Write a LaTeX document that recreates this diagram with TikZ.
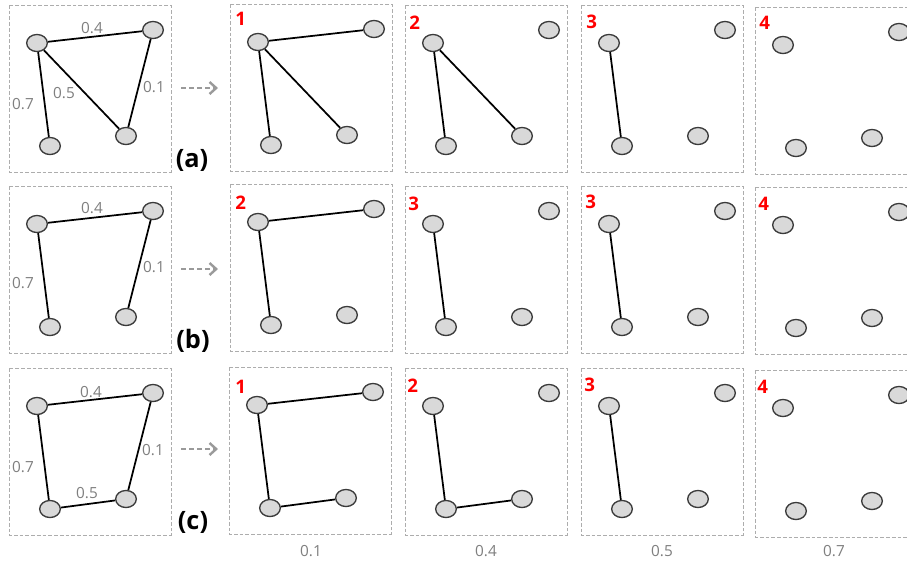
\documentclass[tikz,border=0pt]{standalone}
\usepackage{fontspec}
\setmainfont{Open Sans}
\usetikzlibrary{shapes.geometric,arrows.meta}
\definecolor{vfill}{HTML}{D9D9D9}
\definecolor{vline}{HTML}{3A3A3A}
\definecolor{pline}{HTML}{ADADAD}
\definecolor{lbl}{HTML}{7F7F7F}
\definecolor{arr}{HTML}{9A9A9A}
\definecolor{numred}{HTML}{FF0000}
\tikzset{
 vtx/.style={ellipse, draw=vline, fill=vfill, line width=1pt, minimum width=15.5pt, minimum height=12.8pt, inner sep=0pt},
 gedge/.style={line width=1.3pt, black},
 panelbox/.style={draw=pline, line width=0.75pt, dash pattern=on 2.8pt off 1.5pt},
 wlabel/.style={text=lbl, font=\fontsize{11.5}{13}\selectfont, inner sep=0pt},
 stepnum/.style={text=numred, font=\fontsize{14}{16}\selectfont\bfseries, inner sep=0pt, anchor=west},
 rowlabel/.style={font=\fontsize{19}{21}\selectfont\bfseries, inner sep=0pt},
 flowarrow/.style={draw=arr, line width=1.8pt, dash pattern=on 3.8pt off 2.2pt, -{Straight Barb[length=5pt,width=9pt]}},
}
\newcommand\graphpanel[3]{%
  \draw[panelbox] (#2,#3) rectangle ++(162,167);
  \node[vtx] (#1A) at (#2+28,#3+38) {};
  \node[vtx] (#1B) at (#2+144,#3+25) {};
  \node[vtx] (#1C) at (#2+41,#3+141) {};
  \node[vtx] (#1D) at (#2+117,#3+131) {};
}
\begin{document}
\begin{tikzpicture}[x=0.75pt,y=-0.75pt]
\fill[white] (0,0) rectangle (907,561);
\useasboundingbox (0,0) rectangle (907,561);
\clip (0,0) rectangle (907,561);
% ---------- row (a)
\graphpanel{a0}{9}{5}
\graphpanel{a1}{230}{4}
\graphpanel{a2}{405}{5}
\graphpanel{a3}{581}{5}
\graphpanel{a4}{755}{7}
\draw[gedge] (a0A) -- (a0B);
\draw[gedge] (a0A) -- (a0C);
\draw[gedge] (a0A) -- (a0D);
\draw[gedge] (a0B) -- (a0D);
\draw[gedge] (a1A) -- (a1B);
\draw[gedge] (a1A) -- (a1C);
\draw[gedge] (a1A) -- (a1D);
\draw[gedge] (a2A) -- (a2C);
\draw[gedge] (a2A) -- (a2D);
\draw[gedge] (a3A) -- (a3C);
\node[wlabel] (aw1) at (92,28) {0.4};
\node[wlabel] (aw2) at (154,87) {0.1};
\node[wlabel] (aw3) at (64,93) {0.5};
\node[wlabel] (aw4) at (23,104) {0.7};
\node[stepnum] (an1) at (235,19) {1};
\node[stepnum] (an2) at (409,22.5) {2};
\node[stepnum] (an3) at (586,22) {3};
\node[stepnum] (an4) at (759,23) {4};
\node[rowlabel] (arl) at (192,160) {(a)};
\coordinate (aas) at (181,88);
\coordinate (aae) at (218,88);
\draw[flowarrow] (aas) -- (aae);
% ---------- row (b)
\graphpanel{b0}{9}{186}
\graphpanel{b1}{230}{184}
\graphpanel{b2}{405}{186}
\graphpanel{b3}{581}{186}
\graphpanel{b4}{755}{187}
\draw[gedge] (b0A) -- (b0B);
\draw[gedge] (b0A) -- (b0C);
\draw[gedge] (b0B) -- (b0D);
\draw[gedge] (b1A) -- (b1B);
\draw[gedge] (b1A) -- (b1C);
\draw[gedge] (b2A) -- (b2C);
\draw[gedge] (b3A) -- (b3C);
\node[wlabel] (bw1) at (92,208) {0.4};
\node[wlabel] (bw2) at (154,267) {0.1};
\node[wlabel] (bw4) at (23,283) {0.7};
\node[stepnum] (bn1) at (235,203) {2};
\node[stepnum] (bn2) at (408,203.5) {3};
\node[stepnum] (bn3) at (585,202) {3};
\node[stepnum] (bn4) at (758,204) {4};
\node[rowlabel] (brl) at (193,341) {(b)};
\coordinate (bas) at (181,269);
\coordinate (bae) at (218,269);
\draw[flowarrow] (bas) -- (bae);
% ---------- row (c)
\graphpanel{c0}{9}{368}
\graphpanel{c1}{229}{367}
\graphpanel{c2}{405}{368}
\graphpanel{c3}{581}{368}
\graphpanel{c4}{755}{370}
\draw[gedge] (c0A) -- (c0B);
\draw[gedge] (c0A) -- (c0C);
\draw[gedge] (c0B) -- (c0D);
\draw[gedge] (c0C) -- (c0D);
\draw[gedge] (c1A) -- (c1B);
\draw[gedge] (c1A) -- (c1C);
\draw[gedge] (c1C) -- (c1D);
\draw[gedge] (c2A) -- (c2C);
\draw[gedge] (c2C) -- (c2D);
\draw[gedge] (c3A) -- (c3C);
\node[wlabel] (cw1) at (91,392) {0.4};
\node[wlabel] (cw2) at (153,450) {0.1};
\node[wlabel] (cw4) at (23,467) {0.7};
\node[wlabel] (cw3) at (87,493) {0.5};
\node[stepnum] (cn1) at (235,386.5) {1};
\node[stepnum] (cn2) at (407,386) {2};
\node[stepnum] (cn3) at (584,385) {3};
\node[stepnum] (cn4) at (757,387) {4};
\node[rowlabel] (crl) at (193,522) {(c)};
\coordinate (cas) at (181,449);
\coordinate (cae) at (218,449);
\draw[flowarrow] (cas) -- (cae);
% ---------- bottom thresholds
\node[wlabel] (t1) at (311,551) {0.1};
\node[wlabel] (t2) at (486,551) {0.4};
\node[wlabel] (t3) at (662,551) {0.5};
\node[wlabel] (t4) at (834,551) {0.7};
\end{tikzpicture}
\end{document}
